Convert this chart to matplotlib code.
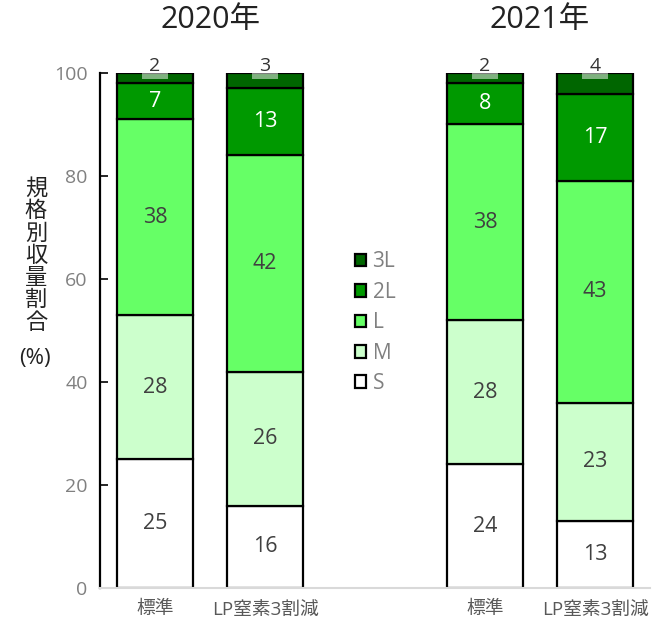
import numpy as np
import matplotlib
matplotlib.use('Agg')
import matplotlib.pyplot as plt
from matplotlib.patches import Rectangle

plt.rcParams['font.family'] = ['Open Sans', 'Noto Sans CJK JP', 'DejaVu Sans']

years = ['2020年', '2021年']
treatments = ['標準', 'LP窒素3割減']
grades = ['S', 'M', 'L', '2L', '3L']
colors = ['#ffffff', '#ccffcc', '#66ff66', '#009900', '#006600']
text_colors = ['#404040', '#404040', '#404040', '#ffffff', '#333333']

# percentage per grade, one entry per bar (2020 標準, 2020 LP, 2021 標準, 2021 LP)
S = [25, 16, 24, 13]
M = [28, 26, 28, 23]
L = [38, 42, 38, 43]
L2 = [7, 13, 8, 17]
L3 = [2, 3, 2, 4]
values = [S, M, L, L2, L3]

x = np.array([0, 1, 3, 4])
width = 0.69

fig = plt.figure(figsize=(6.67, 6.22), dpi=100)
ax = fig.add_axes([0.15, 0.0547, 0.8246, 0.828])

bottom = np.zeros(len(x))
for vals, grade, col, tc in zip(values, grades, colors, text_colors):
    vals = np.array(vals, dtype=float)
    ax.bar(x, vals, width, bottom=bottom, color=col, edgecolor='black',
           linewidth=1.6, label=grade, zorder=2)
    for xi, b, v in zip(x, bottom, vals):
        if grade == '3L':
            # small value sits above the bar with a pale tab under it
            ax.add_patch(Rectangle((xi - 0.12, b + v - 1.2), 0.24, 1.2,
                                   facecolor='white', alpha=0.5,
                                   edgecolor='none', zorder=3))
            ax.text(xi, b + v - 0.3, f'{v:g}', ha='center', va='bottom',
                    fontsize=14, color=tc, zorder=4)
        else:
            ax.text(xi, b + v / 2, f'{v:g}', ha='center', va='center',
                    fontsize=15.5, color=tc, zorder=4)
    bottom += vals

ax.set_xlim(-0.5, 4.5)
ax.set_ylim(0, 100)
ax.set_yticks(np.arange(0, 101, 20))
ax.tick_params(axis='y', direction='in', length=6, width=1.2,
               labelsize=14, labelcolor='#808080', pad=9)
ax.set_xticks(x)
ax.set_xticklabels(treatments * 2)
ax.tick_params(axis='x', length=0, labelsize=13.5, labelcolor='#595959', pad=9)

for side in ['top', 'right']:
    ax.spines[side].set_visible(False)
ax.spines['left'].set_color('black')
ax.spines['left'].set_linewidth(1.6)
ax.spines['bottom'].set_color('#d9d9d9')
ax.spines['bottom'].set_linewidth(1.5)

# year headers over each pair of bars
for xc, yr in zip([0.5, 3.5], years):
    ax.text(xc, 1.103, yr, transform=ax.get_xaxis_transform(),
            ha='center', va='center', fontsize=22, color='#222222')

fig.text(0.054, 0.588, '\n'.join('規格別収量割合'), ha='center', va='center',
         fontsize=16, linespacing=1.08, color='#222222')
fig.text(0.052, 0.423, '(%)', ha='center', va='center', fontsize=16,
         color='#222222')

handles, labels = ax.get_legend_handles_labels()
leg = ax.legend(handles[::-1], labels[::-1], loc='center',
                bbox_to_anchor=(0.5, 0.515), frameon=False, fontsize=15,
                handlelength=0.55, handleheight=0.55, handletextpad=0.3,
                labelspacing=0.45, labelcolor='#808080')

fig.savefig('out.png', dpi=100)
